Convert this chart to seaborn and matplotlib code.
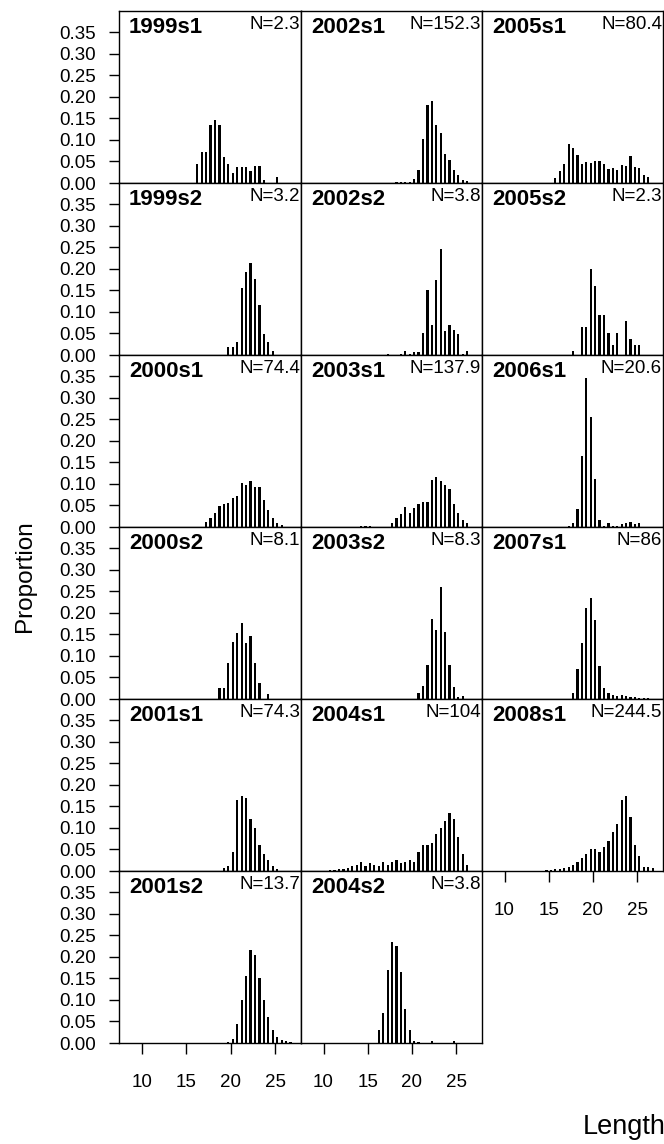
import numpy as np
import pandas as pd
import matplotlib
matplotlib.use("Agg")
import matplotlib.pyplot as plt
import seaborn as sns

# ---------------- data ----------------
panel_names = ["1999s1", "1999s2", "2000s1", "2000s2", "2001s1", "2001s2",
               "2002s1", "2002s2", "2003s1", "2003s2", "2004s1", "2004s2",
               "2005s1", "2005s2", "2006s1", "2007s1", "2008s1"]
n_labels = ["N=2.3", "N=3.2", "N=74.4", "N=8.1", "N=74.3", "N=13.7",
            "N=152.3", "N=3.8", "N=137.9", "N=8.3", "N=104", "N=3.8",
            "N=80.4", "N=2.3", "N=20.6", "N=86", "N=244.5"]

# midpoint of the first 0.5 cm length bin of each panel
first_bin = [16.25, 19.75, 17.25, 18.75, 19.25, 19.75,
             18.25, 17.25, 14.25, 20.75, 10.75, 16.25,
             15.75, 17.75, 17.25, 17.75, 14.75]

p_1999s1 = [0.043, 0.073, 0.073, 0.135, 0.145, 0.135, 0.06, 0.043, 0.023, 0.037,
            0.037, 0.037, 0.027, 0.039, 0.039, 0.008, 0, 0, 0.013]
p_1999s2 = [0.019, 0.019, 0.029, 0.155, 0.193, 0.213, 0.176, 0.116, 0.048, 0.029, 0.009]
p_2000s1 = [0.012, 0.022, 0.032, 0.049, 0.053, 0.056, 0.067, 0.073, 0.103, 0.098,
            0.106, 0.092, 0.092, 0.063, 0.039, 0.022, 0.010, 0.004]
p_2000s2 = [0.025, 0.025, 0.083, 0.133, 0.152, 0.177, 0.131, 0.146, 0.083, 0.036, 0.0, 0.012]
p_2001s1 = [0.008, 0.012, 0.045, 0.165, 0.175, 0.17, 0.12, 0.1, 0.06, 0.04, 0.025, 0.012, 0.005]
p_2001s2 = [0.003, 0.01, 0.045, 0.1, 0.155, 0.215, 0.205, 0.15, 0.1, 0.06, 0.03,
            0.015, 0.008, 0.005, 0.003]
p_2002s1 = [0.002, 0.002, 0.003, 0.002, 0.009, 0.029, 0.103, 0.182, 0.19, 0.135,
            0.116, 0.067, 0.053, 0.031, 0.019, 0.006, 0.004]
p_2002s2 = [0.003, 0, 0, 0.003, 0.01, 0.003, 0.006, 0.006, 0.052, 0.151, 0.07,
            0.174, 0.246, 0.056, 0.07, 0.059, 0.049, 0.003, 0.01]
p_2003s1 = [0.003, 0.003, 0.003, 0, 0, 0, 0.001, 0.01, 0.02, 0.029, 0.047, 0.033,
            0.043, 0.053, 0.059, 0.059, 0.109, 0.115, 0.107, 0.097, 0.087, 0.053,
            0.032, 0.016, 0.009]
p_2003s2 = [0.015, 0.031, 0.08, 0.185, 0.16, 0.259, 0.156, 0.08, 0.027, 0.005, 0.008]
p_2004s1 = [0.003, 0.003, 0.005, 0.004, 0.008, 0.012, 0.015, 0.02, 0.012, 0.018,
            0.015, 0.012, 0.02, 0.015, 0.02, 0.025, 0.018, 0.02, 0.025, 0.02,
            0.045, 0.06, 0.06, 0.065, 0.085, 0.1, 0.115, 0.135, 0.12, 0.08, 0.04, 0.015]
p_2004s2 = [0.03, 0.07, 0.17, 0.235, 0.225, 0.165, 0.08, 0.03, 0.005, 0.002, 0, 0,
            0.005, 0, 0, 0, 0, 0.005]
p_2005s1 = [0.012, 0.027, 0.043, 0.09, 0.081, 0.066, 0.043, 0.049, 0.046, 0.052,
            0.052, 0.043, 0.032, 0.035, 0.03, 0.041, 0.039, 0.063, 0.037, 0.035,
            0.018, 0.013]
p_2005s2 = [0.01, 0, 0.066, 0.066, 0.2, 0.159, 0.092, 0.092, 0.052, 0.024, 0.052,
            0, 0.078, 0.038, 0.024, 0.024]
p_2006s1 = [0.002, 0.01, 0.041, 0.165, 0.345, 0.256, 0.111, 0.016, 0.003, 0.009,
            0.003, 0.002, 0.007, 0.009, 0.012, 0.007, 0.009]
p_2007s1 = [0.015, 0.069, 0.131, 0.21, 0.235, 0.183, 0.077, 0.026, 0.015, 0.009,
            0.007, 0.009, 0.007, 0.005, 0.004, 0.003, 0.003, 0.002]
p_2008s1 = [0.003, 0.003, 0.005, 0.005, 0.008, 0.01, 0.015, 0.02, 0.03, 0.04, 0.05,
            0.05, 0.045, 0.055, 0.07, 0.09, 0.11, 0.165, 0.175, 0.125, 0.06, 0.035,
            0.01, 0.01, 0.008]

proportions = [p_1999s1, p_1999s2, p_2000s1, p_2000s2, p_2001s1, p_2001s2,
               p_2002s1, p_2002s2, p_2003s1, p_2003s2, p_2004s1, p_2004s2,
               p_2005s1, p_2005s2, p_2006s1, p_2007s1, p_2008s1]

y_ticks = [0.00, 0.05, 0.10, 0.15, 0.20, 0.25, 0.30, 0.35]
y_tick_labels = ["0.00", "0.05", "0.10", "0.15", "0.20", "0.25", "0.30", "0.35"]
x_ticks = [10, 15, 20, 25]
x_tick_labels = ["10", "15", "20", "25"]

# ---------------- style ----------------
sns.set_theme(style="ticks")
plt.rcParams["font.family"] = ["Liberation Sans", "DejaVu Sans"]
plt.rcParams["axes.edgecolor"] = "black"
plt.rcParams["axes.linewidth"] = 1.0
plt.rcParams["xtick.color"] = "black"
plt.rcParams["ytick.color"] = "black"

W, H = 664, 1144
fig = plt.figure(figsize=(W / 100, H / 100), dpi=100)

col_left = [119, 301, 482]
col_width = [182, 181, 181]
row_top = [11, 183, 355, 527, 699, 871]
row_h = 172
n_rows = 6

XLIM = (7.45, 27.92)
YLIM = (0.0, 0.399)

for i, name in enumerate(panel_names):
    col = i // n_rows
    row = i % n_rows
    left = col_left[col] / W
    bottom = 1 - (row_top[row] + row_h) / H
    ax = fig.add_axes([left, bottom, col_width[col] / W, row_h / H])

    props = proportions[i]
    lengths = first_bin[i] + 0.5 * np.arange(len(props))
    df = pd.DataFrame({"length": lengths, "prop": props})
    sns.histplot(data=df, x="length", weights="prop", binwidth=0.5,
                 binrange=(lengths[0] - 0.25, lengths[-1] + 0.25), shrink=0.5,
                 color="black", alpha=1, linewidth=0, edgecolor="none",
                 stat="count", ax=ax)

    ax.set_xlim(*XLIM)
    ax.set_ylim(*YLIM)
    ax.set_xlabel("")
    ax.set_ylabel("")
    for sp in ax.spines.values():
        sp.set_visible(True)
        sp.set_color("black")
        sp.set_linewidth(1.0)

    is_bottom = (row == n_rows - 1) or (col == 2 and row == 4)
    if col == 0:
        ax.set_yticks(y_ticks)
        ax.set_yticklabels(y_tick_labels)
        ax.tick_params(axis="y", length=7.2, width=1.0, pad=9.4, labelsize=13.5)
    else:
        ax.set_yticks([])
    if is_bottom:
        ax.set_xticks(x_ticks)
        ax.set_xticklabels(x_tick_labels)
        ax.tick_params(axis="x", length=8, width=1.0, pad=14.5, labelsize=13.5)
    else:
        ax.set_xticks([])

    ax.text(0.055, 0.965, name, transform=ax.transAxes, ha="left", va="top",
            fontsize=16, fontweight="bold", color="black")
    ax.text(0.995, 0.972, n_labels[i], transform=ax.transAxes, ha="right", va="top",
            fontsize=13.5, color="black")

fig.text(25 / W, 1 - 576 / H, "Proportion", rotation=90, ha="center", va="center",
         fontsize=17.5, color="black")
fig.text(583 / W, 1 - 1134 / H, "Length", ha="left", va="baseline",
         fontsize=19.5, color="black")

fig.savefig("out.png", dpi=100, facecolor="white")
